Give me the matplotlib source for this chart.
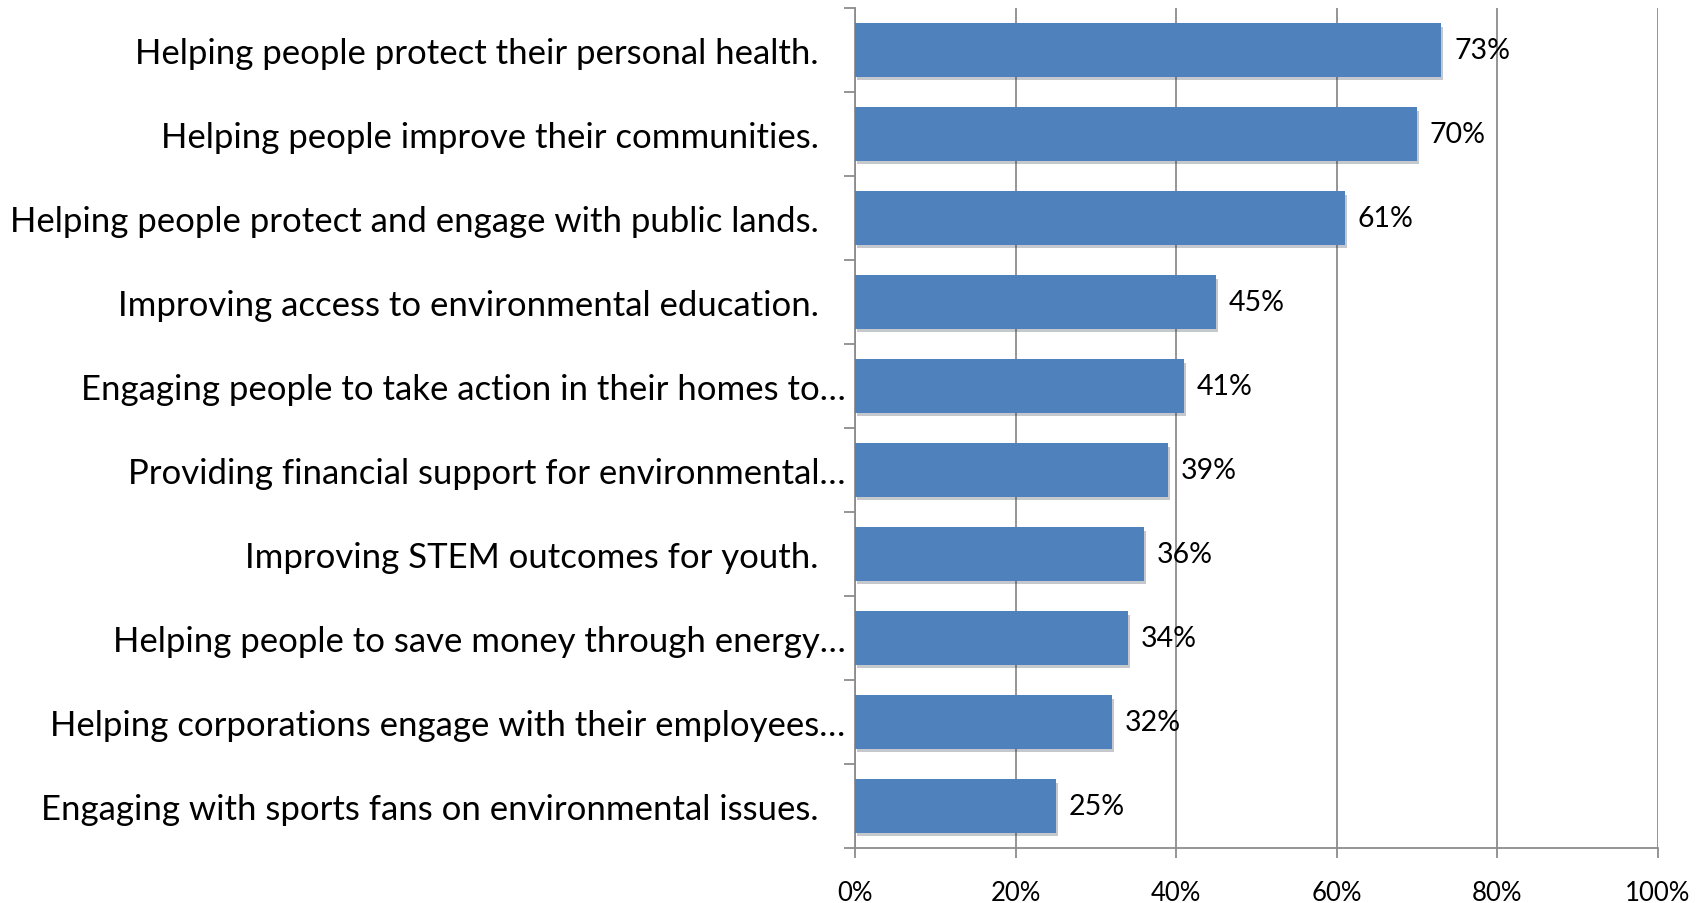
import matplotlib
matplotlib.use("Agg")
import matplotlib.pyplot as plt
import matplotlib.patheffects as pe
from matplotlib.ticker import FixedLocator, PercentFormatter

# survey answers, top to bottom
categories = [
    "Helping people protect their personal health.   ",
    "Helping people improve their communities.   ",
    "Helping people protect and engage with public lands.   ",
    "Improving access to environmental education.   ",
    "Engaging people to take action in their homes to…",
    "Providing financial support for environmental…",
    "Improving STEM outcomes for youth.   ",
    "Helping people to save money through energy…",
    "Helping corporations engage with their employees…",
    "Engaging with sports fans on environmental issues.   ",
]
values = [73, 70, 61, 45, 41, 39, 36, 34, 32, 25]
xticks = [0, 20, 40, 60, 80, 100]

plt.rcParams['font.family'] = ['Lato', 'DejaVu Sans']

fig = plt.figure(figsize=(17.08, 9.04), dpi=100)
ax = fig.add_axes([0.5006, 0.0608, 0.4701, 0.9292])

pos = list(range(len(values)))
bars = ax.barh(pos, values, height=0.64, color="#4F81BD", zorder=3)
for b in bars:
    b.set_path_effects([pe.SimplePatchShadow(offset=(1.5, -2.5), alpha=0.25), pe.Normal()])

for p, v in zip(pos, values):
    ax.text(v + 1.6, p, f"{v}%", va="center", ha="left", fontsize=20.5, zorder=4)

ax.set_xlim(0, 100)
ax.set_ylim(len(values) - 0.5, -0.5)
ax.set_xticks(xticks)
ax.xaxis.set_major_formatter(PercentFormatter(decimals=0))
ax.set_yticks(pos)
ax.set_yticklabels(categories)
ax.yaxis.set_minor_locator(FixedLocator([i - 0.5 for i in range(len(values) + 1)]))

ax.grid(axis="x", color="#8c8c8c", linewidth=1.3, zorder=0)
for s in ["top", "right"]:
    ax.spines[s].set_visible(False)
for s in ["left", "bottom"]:
    ax.spines[s].set_color("#8c8c8c")
    ax.spines[s].set_linewidth(1.3)

ax.tick_params(axis="y", which="major", length=0, pad=7, labelsize=25)
ax.tick_params(axis="y", which="minor", length=8, width=1.3, color="#8c8c8c")
ax.tick_params(axis="x", length=7, width=1.3, color="#8c8c8c", pad=16, labelsize=18.5)

fig.savefig("out.png", dpi=100)
